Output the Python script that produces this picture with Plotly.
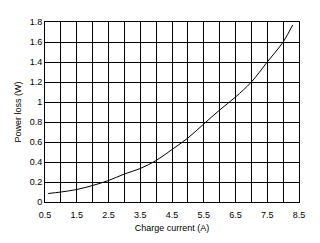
import plotly.graph_objects as go

current_a = [0.6, 1.0, 1.5, 2.0, 2.5, 3.0, 3.5, 4.0, 4.5, 5.0, 5.5, 6.0, 6.5, 7.0, 7.5, 8.0, 8.3]
power_loss_w = [0.085, 0.10, 0.125, 0.165, 0.215, 0.28, 0.335, 0.415, 0.525, 0.64, 0.78, 0.92, 1.05, 1.2, 1.4, 1.6, 1.77]

x_tick_vals = [0.5, 1.0, 1.5, 2.0, 2.5, 3.0, 3.5, 4.0, 4.5, 5.0, 5.5, 6.0, 6.5, 7.0, 7.5, 8.0, 8.5]
x_tick_text = ["0.5", "", "1.5", "", "2.5", "", "3.5", "", "4.5", "", "5.5", "", "6.5", "", "7.5", "", "8.5"]
y_tick_vals = [0, 0.2, 0.4, 0.6, 0.8, 1.0, 1.2, 1.4, 1.6, 1.8]
y_tick_text = ["0", "0.2", "0.4", "0.6", "0.8", "1", "1.2", "1.4", "1.6", "1.8"]

fig = go.Figure()
fig.add_trace(go.Scatter(x=current_a, y=power_loss_w, mode="lines",
                         line=dict(color="black", width=1, shape="spline"),
                         showlegend=False, hoverinfo="skip"))

font = dict(family="Liberation Sans, Arial", size=9, color="black")
fig.update_layout(
    width=320, height=243,
    margin=dict(l=45, r=21, t=22, b=41),
    paper_bgcolor="white", plot_bgcolor="white",
    font=font,
    xaxis=dict(range=[0.5, 8.5], tickvals=x_tick_vals, ticktext=x_tick_text,
               showgrid=True, gridcolor="black", gridwidth=1,
               showline=True, linecolor="black", linewidth=1, mirror=True,
               ticks="", zeroline=False, ticklabelstandoff=4,
               title=dict(text="Charge current (A)", font=font, standoff=5)),
    yaxis=dict(range=[0, 1.8], tickvals=y_tick_vals, ticktext=y_tick_text,
               showgrid=True, gridcolor="black", gridwidth=1,
               showline=True, linecolor="black", linewidth=1, mirror=True,
               ticks="", zeroline=False,
               title=dict(text="Power loss (W)", font=font, standoff=6)),
)
fig.write_html("out.html")
